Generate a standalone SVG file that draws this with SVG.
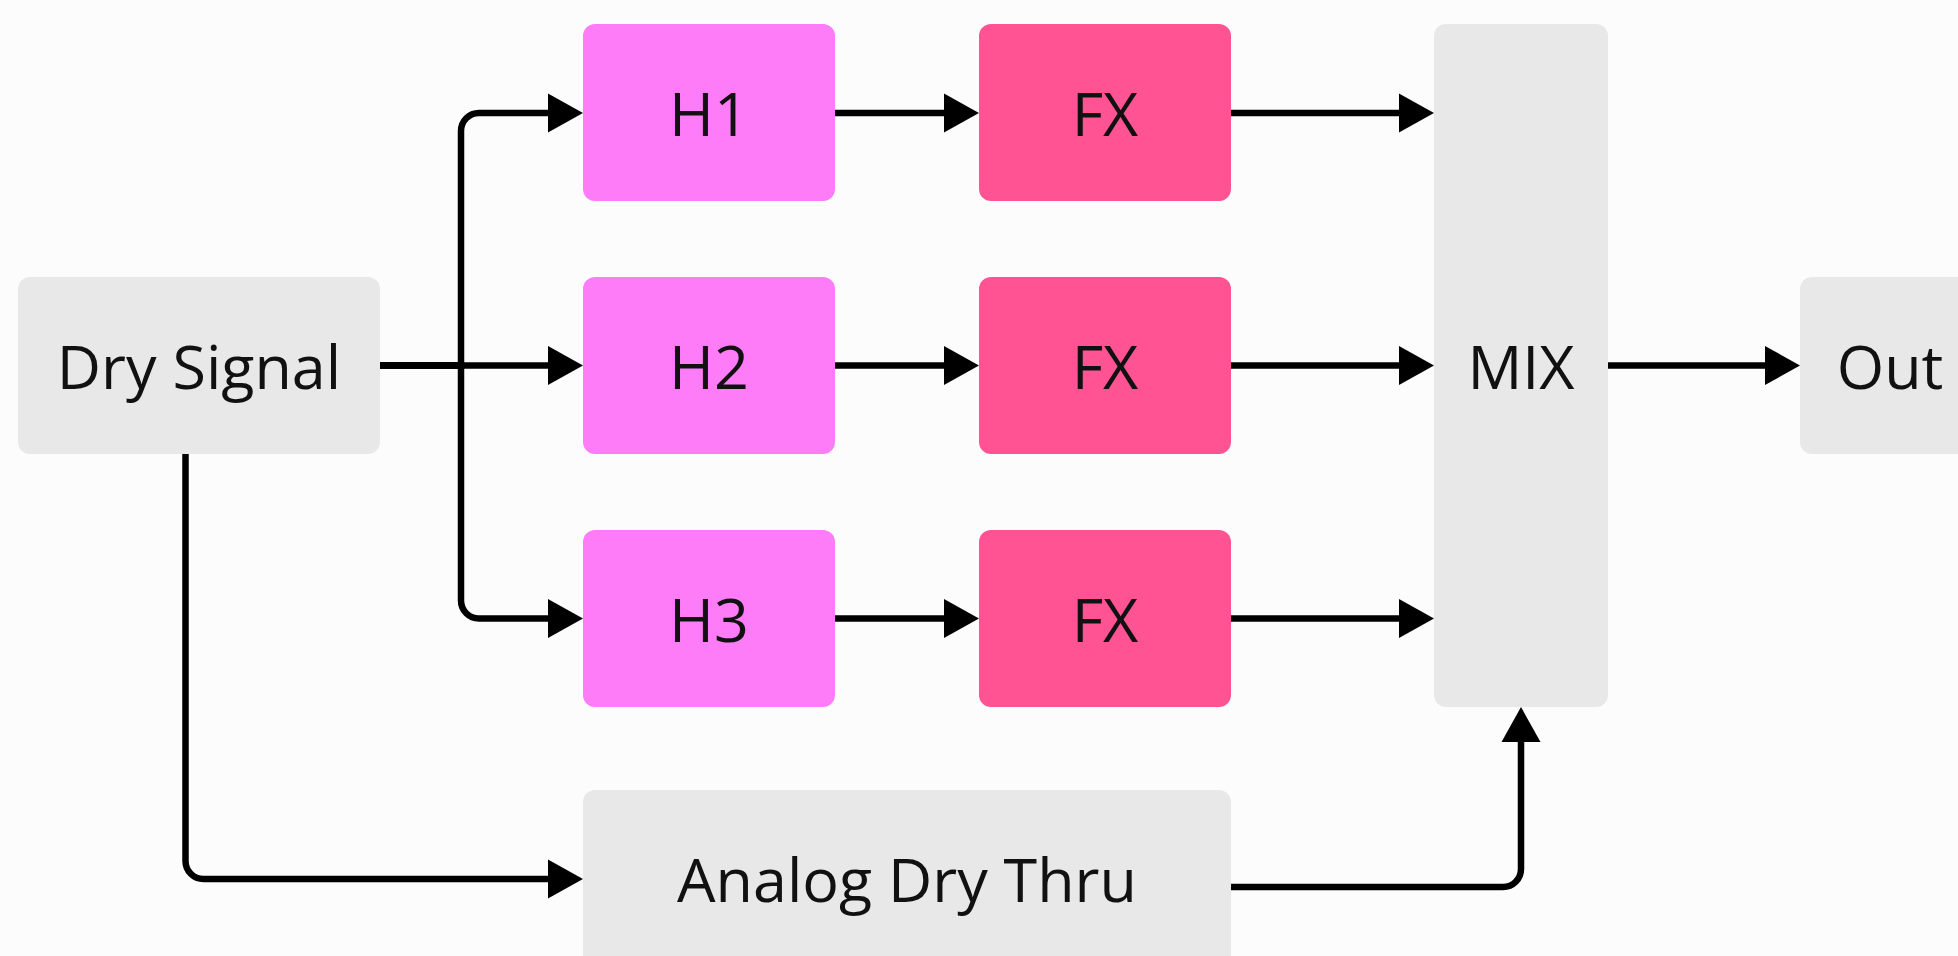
<svg xmlns="http://www.w3.org/2000/svg" width="1958" height="956" viewBox="0 0 1958 956">
<defs>
<style>
.gray{fill:#e8e8e8}
.h{fill:#ff7cf9}
.fx{fill:#ff5393}
.t{font-family:"Open Sans","DejaVu Sans",sans-serif;font-size:61px;fill:#111;text-anchor:middle}
.c{fill:none;stroke:#000;stroke-width:6.5}
</style>
<marker id="ah" markerUnits="userSpaceOnUse" markerWidth="36" markerHeight="40" refX="0" refY="19.5" orient="auto" overflow="visible">
<path d="M0,0 L35,19.5 L0,39 z" fill="#000"/>
</marker>
</defs>
<rect width="1958" height="956" fill="#fcfcfc"/>
<g id="connectors">
<path class="c" d="M380,365.5 H461 V131 A18,18 0 0 1 479,113 H548" marker-end="url(#ah)"/>
<path class="c" d="M380,365.5 H548" marker-end="url(#ah)"/>
<path class="c" d="M380,365.5 H461 V600.5 A18,18 0 0 0 479,618.5 H548" marker-end="url(#ah)"/>
<path class="c" d="M185.5,454 V861 A18,18 0 0 0 203.5,879 H548" marker-end="url(#ah)"/>
<path class="c" d="M835,113 H944" marker-end="url(#ah)"/>
<path class="c" d="M835,365.5 H944" marker-end="url(#ah)"/>
<path class="c" d="M835,618.5 H944" marker-end="url(#ah)"/>
<path class="c" d="M1231,113 H1399" marker-end="url(#ah)"/>
<path class="c" d="M1231,365.5 H1399" marker-end="url(#ah)"/>
<path class="c" d="M1231,618.5 H1399" marker-end="url(#ah)"/>
<path class="c" d="M1608,365.5 H1765" marker-end="url(#ah)"/>
<path class="c" d="M1231,887 H1503 A18,18 0 0 0 1521,869 V742" marker-end="url(#ah)"/>
</g>
<g id="dry"><rect class="gray" x="18" y="277" width="362" height="177" rx="12"/><text class="t" x="199" y="389">Dry Signal</text></g>
<g id="h1"><rect class="h" x="583" y="24" width="252" height="177" rx="12"/><text class="t" x="709" y="136">H1</text></g>
<g id="h2"><rect class="h" x="583" y="277" width="252" height="177" rx="12"/><text class="t" x="709" y="389">H2</text></g>
<g id="h3"><rect class="h" x="583" y="530" width="252" height="177" rx="12"/><text class="t" x="709" y="642">H3</text></g>
<g id="fx1"><rect class="fx" x="979" y="24" width="252" height="177" rx="12"/><text class="t" x="1105" y="136">FX</text></g>
<g id="fx2"><rect class="fx" x="979" y="277" width="252" height="177" rx="12"/><text class="t" x="1105" y="389">FX</text></g>
<g id="fx3"><rect class="fx" x="979" y="530" width="252" height="177" rx="12"/><text class="t" x="1105" y="642">FX</text></g>
<g id="mix"><rect class="gray" x="1434" y="24" width="174" height="683" rx="12"/><text class="t" x="1521" y="389">MIX</text></g>
<g id="out"><rect class="gray" x="1800" y="277" width="180" height="177" rx="12"/><text class="t" x="1890" y="389">Out</text></g>
<g id="analog"><rect class="gray" x="583" y="790" width="648" height="178" rx="12"/><text class="t" x="907" y="902">Analog Dry Thru</text></g>
</svg>
